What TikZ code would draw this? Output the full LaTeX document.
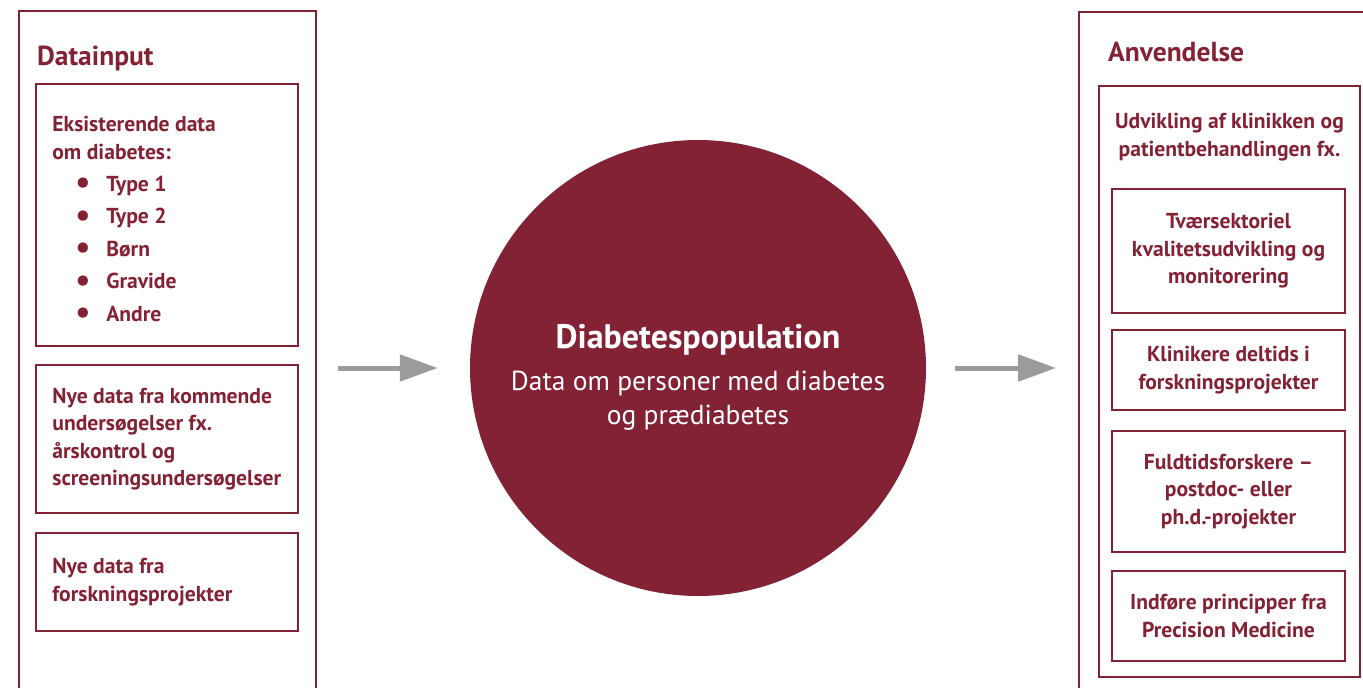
\documentclass[tikz,border=0pt]{standalone}
\usepackage{fontspec}
\setmainfont{PT Sans}
\usetikzlibrary{positioning,arrows.meta}
\definecolor{dkred}{RGB}{131,34,52}
\definecolor{arrowgray}{RGB}{155,155,155}
\newcommand{\listdot}{\makebox[54pt][l]{\hspace*{23pt}\raisebox{-2.6pt}{\scalebox{1.55}{\textbullet}}}}

\begin{document}
\begin{tikzpicture}[
x=1pt, y=-1pt,
outerbox/.style={draw=dkred, line width=1.6pt, rectangle, inner sep=0pt},
databox/.style={draw=dkred, line width=1.6pt, rectangle, inner sep=0pt, minimum width=262pt},
usebox/.style={draw=dkred, line width=1.6pt, rectangle, inner sep=0pt, minimum width=233pt,
  align=center, text=dkred, font=\fontsize{21.6}{27.5}\selectfont\bfseries},
boxtext/.style={align=left, text=dkred, inner sep=0pt, font=\fontsize{21.6}{27.5}\selectfont\bfseries},
heading/.style={anchor=west, text=dkred, inner sep=0pt, font=\fontsize{27.5}{30}\selectfont\bfseries},
flow/.style={draw=arrowgray, line width=5pt, -{Triangle[length=38pt,width=26pt]}},
]
\useasboundingbox (0,0) rectangle (1363,688);
\clip (0,0) rectangle (1363,688);

% Outer frames
\node[outerbox, minimum width=297pt, minimum height=689pt] (inbox) at (167.5,355.5) {};
\node[outerbox, minimum width=301pt, minimum height=688pt] (outbox) at (1229.5,356) {};
\node[heading] (intitle) at (37,58) {Datainput};
\node[heading] (outtitle) at (1108,52) {Anvendelse};

% Data input boxes
\node[databox, minimum height=262pt] (existing) at (167,215) {};
\node[databox, minimum height=148pt] (upcoming) at (167,439) {};
\node[databox, minimum height=98pt] (research) at (167,582) {};

\node[boxtext, right=17pt of existing.west, anchor=west, yshift=-5pt] (existingtxt)
  {Eksisterende data\\om diabetes:\\[4.5pt]
   \listdot Type 1\\[5pt]
   \listdot Type 2\\[5pt]
   \listdot Børn\\[5pt]
   \listdot Gravide\\[5pt]
   \listdot Andre};
\node[boxtext, right=17pt of upcoming.west, anchor=west] (upcomingtxt)
  {Nye data fra kommende\\undersøgelser fx.\\årskontrol og\\screeningsundersøgelser};
\node[boxtext, right=17pt of research.west, anchor=west] (researchtxt)
  {Nye data fra\\forskningsprojekter};

% Population
\node[circle, fill=dkred, minimum size=456pt, inner sep=0pt] (pop) at (698,368) {};
\node[align=center, text=white, inner sep=0pt, font=\fontsize{27.5}{34}\selectfont,
  yshift=-9pt] (poptxt) at (pop.center)
  {\fontsize{34}{36}\selectfont\bfseries Diabetespopulation\\[8pt]
   \fontsize{27.5}{34}\selectfont\mdseries Data om personer med diabetes\\og prædiabetes};

% Application boxes
\node[draw=dkred, line width=1.6pt, minimum width=261pt, minimum height=591pt, inner sep=0pt] (clinic) at (1229.5,381.5) {};
\node[boxtext, align=center, below=28pt of clinic.north] (clinictxt)
  {Udvikling af klinikken og\\patientbehandlingen fx.};
\node[usebox, minimum height=124pt] (quality) at (1228.5,251) {Tværsektoriel\\kvalitetsudvikling og\\monitorering};
\node[usebox, minimum height=80pt] (parttime) at (1228.5,370) {Klinikere deltids i\\forskningsprojekter};
\node[usebox, minimum height=121pt] (fulltime) at (1228.5,491.5) {Fuldtidsforskere –\\postdoc- eller\\ph.d.-projekter};
\node[usebox, minimum height=90pt] (precision) at (1228.5,616) {Indføre principper fra\\Precision Medicine};

% Flow arrows
\draw[flow, shorten <=21pt, shorten >=32pt] (inbox.east |- pop.center) -- (pop.west);
\draw[flow, shorten <=29pt, shorten >=22pt] (pop.east) -- (outbox.west |- pop.center);

\end{tikzpicture}
\end{document}
